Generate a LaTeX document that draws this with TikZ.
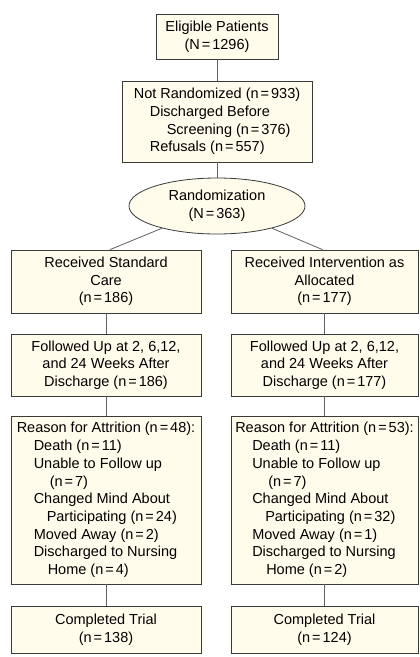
\documentclass[tikz,border=0pt]{standalone}
\usepackage{fontspec}
\setmainfont{Liberation Sans}
\usetikzlibrary{shapes.geometric}
\definecolor{boxfill}{HTML}{FFFCEB}
\definecolor{boxline}{HTML}{3A3A3A}
\newcommand{\eqs}{\kern2pt=\kern2pt}
\newcommand{\ind}[1]{\hspace*{#1pt}}
\begin{document}
\begin{tikzpicture}[x=1pt,y=-1pt,
  box/.style={draw=boxline,fill=boxfill,line width=0.8pt,inner sep=0pt,align=center,
    font=\fontsize{14.5}{17.7}\selectfont},
  lbox/.style={box,align=left},
  conn/.style={draw=boxline!80,line width=0.8pt}]
\useasboundingbox (0,0) rectangle (420,657);
\node[box,minimum width=122pt,minimum height=45pt] (elig) at (217,36.5)
  {Eligible Patients\\(N\eqs 1296)};
\node[lbox,minimum width=190pt,minimum height=81pt] (notr) at (217,121.5)
  {Not Randomized (n\eqs 933)\\\ind{16}Discharged Before\\\ind{33}Screening (n\eqs 376)\\\ind{16}Refusals (n\eqs 557)};
\node[box,ellipse,minimum width=176pt,minimum height=56pt] (rand) at (217,206)
  {Randomization\\(N\eqs 363)};
\node[box,minimum width=190pt,minimum height=63pt] (lsc) at (106,281.5)
  {Received Standard\\Care\\(n\eqs 186)};
\node[box,minimum width=187pt,minimum height=63pt] (rsc) at (324.5,281.5)
  {Received Intervention as\\Allocated\\(n\eqs 177)};
\node[box,minimum width=190pt,minimum height=62pt] (lfu) at (106,365)
  {Followed Up at 2, 6,12,\\and 24 Weeks After\\Discharge (n\eqs 186)};
\node[box,minimum width=187pt,minimum height=62pt] (rfu) at (324.5,365)
  {Followed Up at 2, 6,12,\\and 24 Weeks After\\Discharge (n\eqs 177)};
\node[lbox,minimum width=190pt,minimum height=168pt] (lra) at (106,500)
  {Reason for Attrition (n\eqs 48):\\\ind{17}Death (n\eqs 11)\\\ind{17}Unable to Follow up\\\ind{33}(n\eqs 7)\\\ind{17}Changed Mind About\\\ind{30}Participating (n\eqs 24)\\\ind{17}Moved Away (n\eqs 2)\\\ind{17}Discharged to Nursing\\\ind{31}Home (n\eqs 4)};
\node[lbox,minimum width=187pt,minimum height=168pt] (rra) at (324.5,500)
  {Reason for Attrition (n\eqs 53):\\\ind{17}Death (n\eqs 11)\\\ind{17}Unable to Follow up\\\ind{33}(n\eqs 7)\\\ind{17}Changed Mind About\\\ind{30}Participating (n\eqs 32)\\\ind{17}Moved Away (n\eqs 1)\\\ind{17}Discharged to Nursing\\\ind{31}Home (n\eqs 2)};
\node[box,minimum width=190pt,minimum height=47pt] (lct) at (106,629.5)
  {Completed Trial\\(n\eqs 138)};
\node[box,minimum width=187pt,minimum height=47pt] (rct) at (324.5,629.5)
  {Completed Trial\\(n\eqs 124)};
\draw[conn] (elig) -- (notr);
\draw[conn] (notr) -- (rand);
\draw[conn] (rand.202) -- ([xshift=4pt]lsc.north);
\draw[conn] (rand.338) -- ([xshift=-2pt]rsc.north);
\draw[conn] (lsc) -- (lfu);
\draw[conn] (rsc) -- (rfu);
\draw[conn] (lfu) -- (lra);
\draw[conn] (rfu) -- (rra);
\draw[conn] (lra) -- (lct);
\draw[conn] (rra) -- (rct);
\end{tikzpicture}
\end{document}
